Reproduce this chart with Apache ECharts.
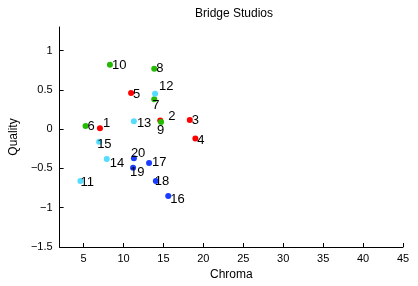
<!DOCTYPE html>
<html><head><meta charset="utf-8">
<script src="https://cdn.jsdelivr.net/npm/echarts@6/dist/echarts.min.js"></script>
<style>html,body{margin:0;padding:0;background:#fff}#c{width:418px;height:286px}</style>
</head><body><div id="c"></div>
<script>
// Data
var ids     = [1, 2, 3, 4, 5, 6, 7, 8, 9, 10, 11, 12, 13, 14, 15, 16, 17, 18, 19, 20];
var chroma  = [7.05, 14.6, 18.3, 19.0, 10.95, 5.25, 13.85, 13.85, 14.7, 8.3, 4.6, 13.95, 11.3, 7.9, 6.95, 15.6, 13.2, 14.05, 11.2, 11.3];
var quality = [0.01, 0.11, 0.115, -0.12, 0.46, 0.04, 0.38, 0.77, 0.09, 0.82, -0.66, 0.45, 0.10, -0.38, -0.16, -0.85, -0.43, -0.66, -0.49, -0.37];
var group   = ['red','red','red','red','red','green','green','green','green','green','cyan','cyan','cyan','cyan','cyan','blue','blue','blue','blue','blue'];
var xTicks = [5, 10, 15, 20, 25, 30, 35, 40, 45];
var yTicks = [-1.5, -1, -0.5, 0, 0.5, 1];

// Styles
var colors = {red:'#ff0000', green:'#22bb00', cyan:'#55ddff', blue:'#1a3cff'};
var labelOffset = {
  1:[0,-5], 2:[5,-4], 3:[-1,0], 4:[-1,2], 5:[-1,1], 6:[-1,0], 7:[-5,6], 8:[-1,0], 9:[-7,8], 10:[-1,1],
  11:[-3,1], 12:[1,-7], 13:[0,2], 14:[0,4], 15:[-5,3], 16:[-1,3], 17:[0,-1], 18:[-4,0], 19:[-6,5], 20:[-6,-5]
};

var groups = ['red','green','cyan','blue'];
var series = groups.map(function(g){
  var d = [];
  for (var i = 0; i < ids.length; i++) {
    if (group[i] !== g) continue;
    d.push({
      value: [chroma[i], quality[i]],
      name: String(ids[i]),
      label: {offset: labelOffset[ids[i]]}
    });
  }
  return {
    type: 'scatter', data: d, symbolSize: 6,
    itemStyle: {color: colors[g], opacity: 1},
    label: {show: true, position: 'right', distance: 0, formatter: '{b}',
            color: '#000', fontSize: 13, fontFamily: 'Liberation Sans, Arial, sans-serif'},
    emphasis: {disabled: true}
  };
});

var chart = echarts.init(document.getElementById('c'), null, {renderer: 'canvas'});
var axisFont = {color:'#000', fontSize: 11, fontFamily: 'Liberation Sans, Arial, sans-serif'};
chart.setOption({
  animation: false,
  backgroundColor: '#fff',
  title: {text: 'Bridge Studios', left: 229, top: 3, textAlign: 'center',
          textStyle: {fontSize: 12, fontWeight: 'normal', color: '#000', fontFamily: 'Liberation Sans, Arial, sans-serif'}},
  grid: {left: 56, right: 15, top: 27, bottom: 38},
  xAxis: {
    type: 'value', min: 2, max: 45, name: 'Chroma', nameLocation: 'middle', nameGap: 22,
    nameTextStyle: {color:'#000', fontSize: 12, fontFamily: 'Liberation Sans, Arial, sans-serif'},
    axisLine: {onZero: false, lineStyle: {color: '#000', width: 1}},
    axisTick: {inside: true, length: 4, lineStyle: {color: '#000'}, customValues: xTicks},
    axisLabel: Object.assign({customValues: xTicks, margin: 6}, axisFont),
    splitLine: {show: false}
  },
  yAxis: {
    type: 'value', min: -1.5, max: 1.3, name: 'Quality', nameLocation: 'middle', nameGap: 34,
    nameTextStyle: {color:'#000', fontSize: 12, fontFamily: 'Liberation Sans, Arial, sans-serif'},
    axisLine: {onZero: false, lineStyle: {color: '#000', width: 1}},
    axisTick: {inside: true, length: 4, lineStyle: {color: '#000'}, customValues: yTicks},
    axisLabel: Object.assign({customValues: yTicks, margin: 7, formatter: function(v){ return String(v).replace('-', '\u2212'); }}, axisFont),
    splitLine: {show: false}
  },
  series: series
});
</script>
</body></html>
